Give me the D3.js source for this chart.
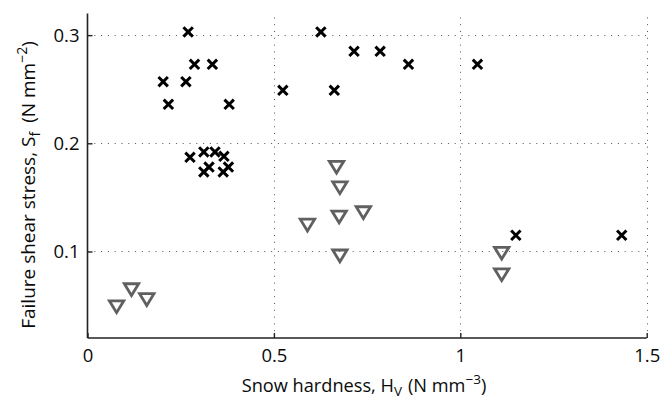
<!DOCTYPE html>
<html>
<head>
<meta charset="utf-8">
<script src="https://cdn.jsdelivr.net/npm/d3@7"></script>
<style>
  html, body { margin: 0; padding: 0; background: #fff; }
  svg { display: block; }
  text { font-family: "Open Sans", "Noto Sans", sans-serif; fill: #0a0a0a; }
</style>
</head>
<body>
<svg id="chart" width="670" height="401"></svg>
<script>
// Snow hardness (N mm^-3) and failure shear stress (N mm^-2), group shown with crosses
const crossHardness = [0.270, 0.287, 0.335, 0.203, 0.264, 0.217, 0.380, 0.275, 0.312, 0.342,
                       0.366, 0.326, 0.312, 0.378, 0.364, 0.524, 0.626, 0.662, 0.715, 0.785,
                       0.861, 1.046, 1.149, 1.433];
const crossStress   = [0.303, 0.273, 0.273, 0.257, 0.257, 0.236, 0.236, 0.187, 0.192, 0.192,
                       0.188, 0.178, 0.1735, 0.178, 0.1735, 0.249, 0.303, 0.249, 0.285, 0.285,
                       0.273, 0.273, 0.115, 0.115];

// Group shown with downward triangles
const triHardness = [0.668, 0.677, 0.675, 0.740, 0.590, 0.677, 0.078, 0.118, 0.159, 1.111, 1.111];
const triStress   = [0.178, 0.159, 0.132, 0.136, 0.1245, 0.096, 0.049, 0.0648, 0.0556, 0.0985, 0.0786];

const xTicks = [0, 0.5, 1, 1.5];
const yTicks = [0.1, 0.2, 0.3];
const xDomain = [0, 1.5];
const yDomain = [0.02, 0.32];

const svg = d3.select("#chart");
const plotLeft = 87.5, plotRight = 646.7, plotTop = 13.5, plotBottom = 338;

const x = d3.scaleLinear().domain(xDomain).range([plotLeft, plotRight]);
const y = d3.scaleLinear().domain(yDomain).range([plotBottom, plotTop]);

// dotted grid
const grid = svg.append("g")
  .attr("stroke", "#555")
  .attr("stroke-width", 1)
  .attr("stroke-dasharray", "1,5.8");
grid.selectAll("line.gx").data(xTicks.filter(d => d > 0)).join("line")
  .attr("x1", d => Math.round(x(d)) + 0.5).attr("x2", d => Math.round(x(d)) + 0.5)
  .attr("y1", plotBottom).attr("y2", plotTop);
grid.selectAll("line.gy").data(yTicks).join("line")
  .attr("y1", d => Math.round(y(d)) + 0.5).attr("y2", d => Math.round(y(d)) + 0.5)
  .attr("x1", plotLeft).attr("x2", plotRight);

// axes with inward ticks
const xAxis = d3.axisBottom(x).tickValues(xTicks).tickFormat(d3.format("~g"))
  .tickSizeInner(-5).tickSizeOuter(0).tickPadding(11);
const yAxis = d3.axisLeft(y).tickValues(yTicks).tickFormat(d3.format(".1f"))
  .tickSizeInner(-5).tickSizeOuter(0).tickPadding(8);

const gx = svg.append("g").attr("transform", `translate(0,${plotBottom})`).call(xAxis);
const gy = svg.append("g").attr("transform", `translate(${plotLeft},0)`).call(yAxis);
[gx, gy].forEach(g => {
  g.select(".domain").attr("stroke", "#222").attr("stroke-width", 1.6);
  g.selectAll(".tick line").attr("stroke", "#222").attr("stroke-width", 1.4);
  g.selectAll(".tick text").attr("font-size", 18.5).attr("fill", "#0a0a0a")
    .attr("font-family", "\"Open Sans\", sans-serif");
});
gx.select(".domain").attr("d", `M${plotLeft},0H${plotRight}`);
gy.select(".domain").attr("d", `M0,${plotBottom}V${plotTop}`);

// markers
const crossPath = "M-4.7,-4.7L4.7,4.7M-4.7,4.7L4.7,-4.7";
svg.append("g").selectAll("path").data(d3.range(crossHardness.length)).join("path")
  .attr("d", crossPath)
  .attr("transform", i => `translate(${x(crossHardness[i])},${y(crossStress[i])})`)
  .attr("fill", "none").attr("stroke", "#000").attr("stroke-width", 3);

const triPath = "M-7.2,-5.8L7.2,-5.8L0,6Z";
svg.append("g").selectAll("path").data(d3.range(triHardness.length)).join("path")
  .attr("d", triPath)
  .attr("transform", i => `translate(${x(triHardness[i])},${y(triStress[i])})`)
  .attr("fill", "none").attr("stroke", "#606060").attr("stroke-width", 2.8)
  .attr("stroke-linejoin", "miter");

// axis titles
const xt = svg.append("text").attr("x", 364).attr("y", 392)
  .attr("text-anchor", "middle").attr("font-size", 18.2);
xt.append("tspan").text("Snow hardness, H");
xt.append("tspan").attr("font-size", 13.5).attr("dy", 4).text("V");
xt.append("tspan").attr("dy", -4).attr("dx", 6).text("(N mm");
xt.append("tspan").attr("font-size", 13.5).attr("dy", -8).text("−3");
xt.append("tspan").attr("dy", 8).text(")");

const yt = svg.append("text")
  .attr("transform", "translate(35,185) rotate(-90)")
  .attr("text-anchor", "middle").attr("font-size", 19);
yt.append("tspan").text("Failure shear stress, S");
yt.append("tspan").attr("font-size", 14).attr("dy", 5).text("f");
yt.append("tspan").attr("dy", -5).attr("dx", 9).text("(N mm");
yt.append("tspan").attr("font-size", 14).attr("dy", -8).text("−2");
yt.append("tspan").attr("dy", 8).text(")");
</script>
</body>
</html>
